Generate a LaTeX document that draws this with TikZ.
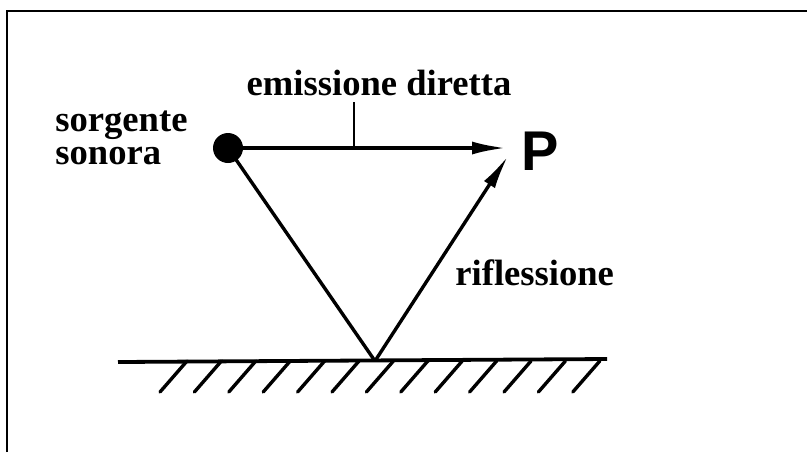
\documentclass[tikz,border=0pt]{standalone}
\usepackage{fontspec}
\setmainfont{Liberation Serif}
\newfontfamily\pfont{Liberation Sans}
\usetikzlibrary{arrows.meta,positioning,calc}

\begin{document}
\begin{tikzpicture}[
  x=0.5pt, y=-0.5pt,
  ray/.style={line width=1.7pt},
  rayarrow/.style={line width=1.7pt, -{Latex[length=17pt,width=6.5pt]}},
  hatch/.style={line width=1.7pt, line cap=round},
  lbl/.style={inner sep=0pt, font=\fontsize{18.3}{16.5}\selectfont\bfseries, align=left}
]
  \useasboundingbox (0,0) rectangle (807,452);
  % frame, cut by the picture edges
  \draw[line width=1.3pt] (7,452) -- (7,11) -- (807,11);
  % source and receiver
  \node[circle, fill=black, inner sep=0pt, minimum size=15pt] (src) at (228,148) {};
  \node[inner sep=0pt, anchor=base west, font=\fontsize{28}{28}\selectfont\pfont\bfseries] (P) at (521,170) {P};
  \coordinate (tipdir) at (506,148);
  \coordinate (tiprefl) at (508,156);
  \coordinate (refl) at (375,361);
  % ground and hatching
  \draw[line width=1.9pt] (118,362) -- (607,359);
  \foreach \k in {0,...,12}
    \draw[hatch] (160+34.4*\k,392) -- ++(27,-31);
  % rays
  \draw[rayarrow] (src.center) -- (tipdir);
  \draw[ray] (src.center) -- (refl);
  \draw[rayarrow] (refl) -- (tiprefl);
  % labels
  \node[lbl, anchor=base west] (sorg) at (55,164) {sorgente\\sonora};
  \node[lbl, anchor=base] (emis) at (379,95) {emissione diretta};
  \node[lbl, anchor=base west] (rifl) at (455,285) {riflessione};
  \coordinate (tickfoot) at (354,148);
  \draw[line width=1.1pt] (tickfoot) -- (tickfoot |- 0,102);
\end{tikzpicture}
\end{document}
